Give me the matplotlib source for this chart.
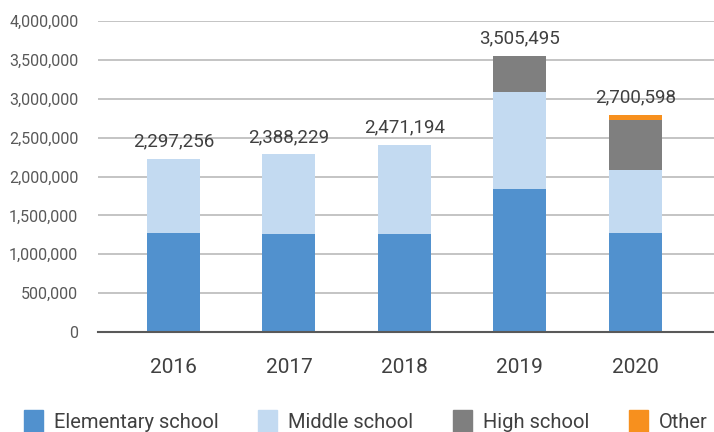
import matplotlib.pyplot as plt
import numpy as np
from matplotlib.ticker import FuncFormatter
from matplotlib.patches import Patch

plt.rcParams['font.family'] = ['Roboto', 'DejaVu Sans']

years = ['2016', '2017', '2018', '2019', '2020']
elementary = [1272000, 1260000, 1260000, 1838000, 1272000]
middle = [952000, 1028000, 1144000, 1247000, 810000]
high = [0, 0, 0, 466000, 643000]
other = [0, 0, 0, 0, 68000]
totals = ['2,297,256', '2,388,229', '2,471,194', '3,505,495', '2,700,598']

series = [('Elementary school', elementary, '#5191CE'),
          ('Middle school', middle, '#C3DAF1'),
          ('High school', high, '#7F7F7F'),
          ('Other', other, '#F7901E')]

fig = plt.figure(figsize=(7.14, 4.32), dpi=100)
ax = fig.add_axes([0.137, 0.2315, 0.863, 0.7195])

x = np.arange(len(years))
bottom = np.zeros(len(years))
for name, vals, col in series:
    ax.bar(x, vals, 0.46, bottom=bottom, color=col, label=name, zorder=3)
    bottom += np.array(vals)

for xi, top, lab in zip(x, bottom, totals):
    ax.annotate(lab, (xi, top), xytext=(0, 6), textcoords='offset points',
                ha='center', va='bottom', fontsize=13.5, color='#404040')

ax.set_ylim(0, 4000000)
ax.set_xlim(-0.654, 4.68)
ax.set_yticks(np.arange(0, 4000001, 500000))
ax.yaxis.set_major_formatter(FuncFormatter(lambda v, p: f'{int(v):,}'))
ax.set_xticks(x)
ax.set_xticklabels(years)
ax.grid(axis='y', color='#BFBFBF', lw=1.3, zorder=0)
for s in ['top', 'right', 'left']:
    ax.spines[s].set_visible(False)
ax.spines['bottom'].set_color('#595959')
ax.spines['bottom'].set_linewidth(1.5)
ax.spines['bottom'].set_zorder(4)
ax.tick_params(axis='y', length=0, labelsize=11.5, labelcolor='#595959', pad=14)
ax.tick_params(axis='x', length=0, labelsize=15, labelcolor='#404040', pad=19)

handles = [Patch(color=c) for _, _, c in series]
fig.legend(handles, [n for n, _, _ in series], loc='center left', ncol=4,
           bbox_to_anchor=(24 / 714, 1 - 421 / 432), frameon=False, fontsize=14.5,
           borderpad=0, borderaxespad=0,
           handlelength=0.95, handleheight=1.3, handletextpad=0.55,
           columnspacing=1.95, labelcolor='#404040')

fig.savefig('out.png', dpi=100)
